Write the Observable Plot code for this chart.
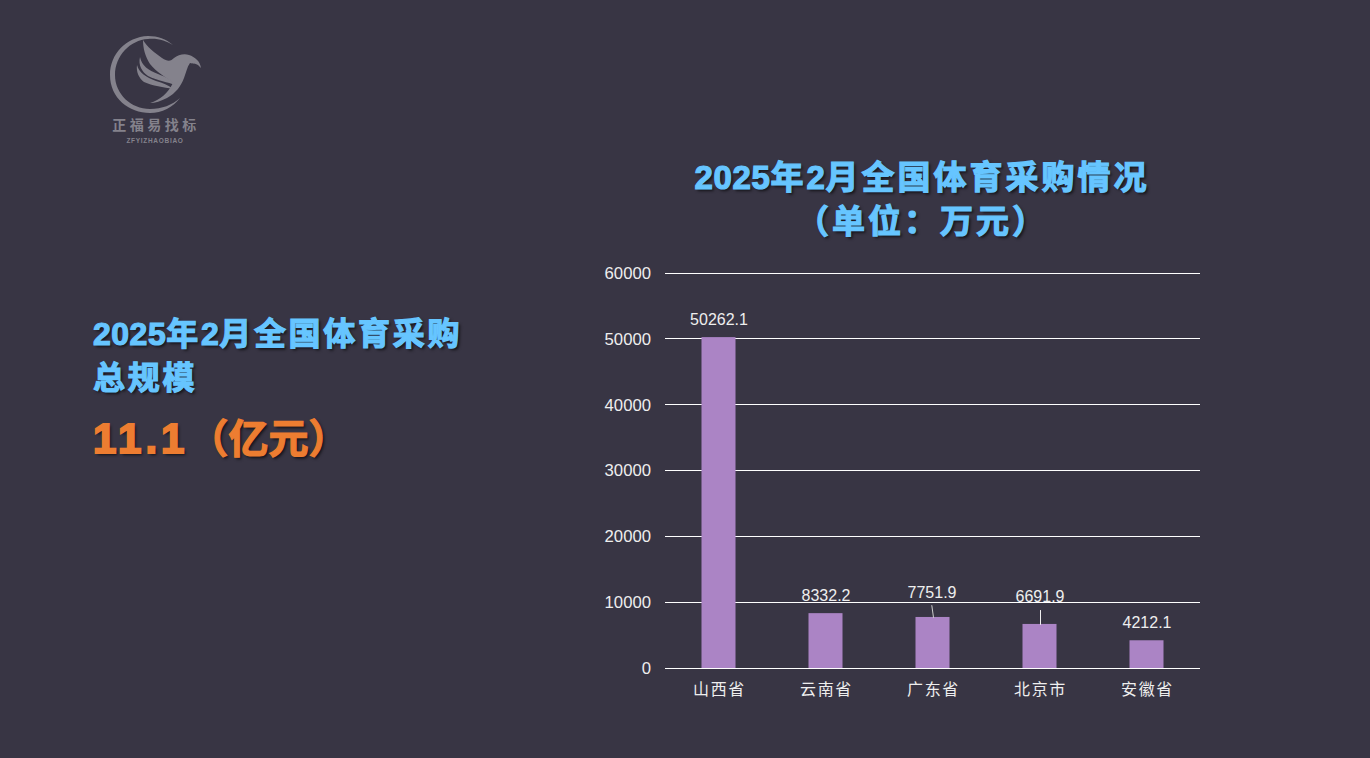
<!DOCTYPE html>
<html lang="zh">
<head>
<meta charset="utf-8">
<script src="https://cdn.jsdelivr.net/npm/d3@7"></script>
<script src="https://cdn.jsdelivr.net/npm/@observablehq/plot@0.6"></script>
<style>
html,body{margin:0;padding:0;width:1370px;height:758px;overflow:hidden;background:#383544;}
#chart{position:absolute;left:0;top:0;}
.t{position:absolute;font-family:"Liberation Sans","Noto Sans CJK SC",sans-serif;font-weight:bold;color:#66c5ff;-webkit-text-stroke:1.2px currentColor;text-shadow:2px 2px 3px rgba(0,0,0,.65);white-space:nowrap;}
#title{left:622px;width:600px;top:156px;text-align:center;font-size:33px;line-height:44px;letter-spacing:3px;}
#title .n{letter-spacing:.6px;}
#left1{left:93px;top:312px;font-size:32px;line-height:44px;letter-spacing:2.7px;}
#left1 .n{letter-spacing:.5px;}
#left2{left:93px;top:415px;font-size:40px;line-height:48px;color:#ed7d31;}
#left2 .n{font-size:42px;letter-spacing:4px;-webkit-text-stroke:2px currentColor;}
#logo{position:absolute;left:90px;top:20px;}
.xa text{letter-spacing:1.6px;}
</style>
</head>
<body>
<svg id="logo" width="130" height="135" viewBox="0 0 130 135">
<g fill="#84828c">
<path d="M83 25C76 19 68 16 58 16C36 17 20 34 20 55C20 78 39 93 60 93C72 93 83 87 90 78C82 85 72 89 60 89C41 89 25 74 25 55C25 36 40 20 58 19C68 18 76 21 83 25Z"/>
<path d="M53 20C57 27 65 33 72 38C78 42 81 41 84 38C88 35 94 33 99 35C105 37 110 41 111 48L108 45C105 43 103 44 100 43C97 47 96 53 94 58C91 66 86 73 77 78C71 81 65 83 60 83C70 80 78 73 83 63C76 57 66 52 60 44C55 36 53 28 53 20Z"/>
<path d="M50 37C52 46 58 50 68 54C76 57 82 60 85 65C78 62 68 61 58 56C52 52 48 45 50 37Z"/>
<path d="M47 45C49 53 56 57 66 61C73 63 78 65 83 69C74 67 62 66 54 62C49 58 46 52 47 45Z"/>
</g>
<text x="66" y="110" text-anchor="middle" font-family="Noto Sans CJK SC" font-weight="bold" font-size="14" letter-spacing="3.5" fill="#84828c">正福易找标</text>
<text x="65" y="123" text-anchor="middle" font-family="Liberation Sans" font-weight="bold" font-size="6.5" letter-spacing=".7" fill="#84828c">ZFYIZHAOBIAO</text>
</svg>
<div id="title" class="t"><span class="n">2025</span>年<span class="n">2</span>月全国体育采购情况<br>（单位：万元）</div>
<div id="left1" class="t"><span class="n">2025</span>年<span class="n">2</span>月全国体育采购<br>总规模</div>
<div id="left2" class="t"><span class="n">11.1</span>（亿元）</div>
<div id="chart"></div>
<script>
const regions = ["山西省","云南省","广东省","北京市","安徽省"];
const amounts = [50262.1,8332.2,7751.9,6691.9,4212.1];
const yTicks = [0,10000,20000,30000,40000,50000,60000];
const table = regions.map((r,i)=>({region:r,amount:amounts[i]}));
const plainLabels = table.filter(d=>!["广东省","北京市"].includes(d.region));
const gd = table.filter(d=>d.region==="广东省");
const bj = table.filter(d=>d.region==="北京市");
const leaderShape = {draw(c,l){c.moveTo(0,0);c.lineTo(0,-l);}};
const labelFont = {fill:"#eeeeee",fontSize:16,fontFamily:"Liberation Sans",text:d=>d.amount.toFixed(1),x:"region",y:"amount",dx:-0.5,frameAnchor:"middle"};
const plot = Plot.plot({
  width:1370,height:758,
  marginLeft:665,marginRight:170,marginTop:273,marginBottom:90,
  style:{background:"transparent",color:"#eeeeee",fontFamily:"Liberation Sans,Noto Sans CJK SC,sans-serif",fontSize:"16px"},
  x:{domain:regions,paddingInner:0.685,paddingOuter:0.3425,align:0.5,label:null,axis:null},
  y:{domain:[0,60000],label:null,axis:null},
  marks:[
    Plot.ruleY(yTicks,{stroke:"#ffffff",strokeWidth:1,strokeOpacity:1,shapeRendering:"crispEdges",dy:-0.4}),
    Plot.barY(table,{x:"region",y:"amount",fill:"#ab84c5",dx:-0.5}),
    Plot.ruleY([0],{stroke:"#ffffff",strokeWidth:1,shapeRendering:"crispEdges",dy:-0.4}),
    Plot.axisY({ticks:yTicks,tickSize:0,tickPadding:14.5,label:null,fontSize:16.7,fill:"#eeeeee",tickFormat:d=>String(d)}),
    Plot.axisX({tickSize:0,tickPadding:15,label:null,fontSize:16,fill:"#eeeeee",className:"xa",fontFamily:"Noto Sans CJK SC"}),
    Plot.text(plainLabels,{...labelFont,dy:-18}),
    Plot.text(gd,{...labelFont,dy:-25,dx:-1.5}),
    Plot.text(bj,{...labelFont,dy:-28}),
    Plot.vector(gd,{x:"region",y:"amount",length:12,rotate:-8,anchor:"start",shape:leaderShape,stroke:"#cccccc",strokeWidth:1}),
    Plot.vector(bj,{x:"region",y:"amount",length:14,anchor:"start",shape:leaderShape,stroke:"#eeeeee",strokeWidth:1})
  ]
});
document.getElementById("chart").appendChild(plot);
</script>
</body>
</html>
